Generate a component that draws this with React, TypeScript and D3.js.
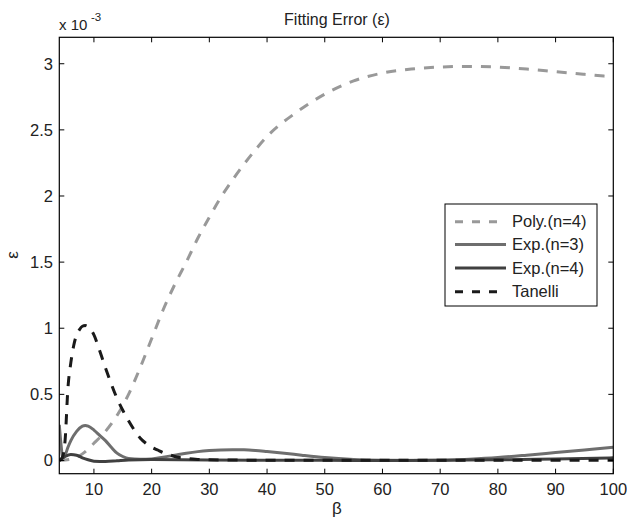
import React from 'react';
import * as d3 from 'd3';

// values in units of 1e-3
const polyBeta = [4, 6, 8, 10, 12, 14, 16, 18, 20, 22, 24, 26, 28, 30, 32, 34, 36, 38, 40, 45, 50, 55, 60, 65, 70, 75, 80, 85, 90, 95, 100];
const polyErr = [0.0, 0.01, 0.05, 0.13, 0.22, 0.34, 0.5, 0.7, 0.92, 1.14, 1.33, 1.5, 1.68, 1.84, 1.99, 2.12, 2.24, 2.35, 2.45, 2.63, 2.77, 2.87, 2.93, 2.96, 2.975, 2.98, 2.975, 2.96, 2.94, 2.92, 2.9];

const exp3Beta = [4, 4.3, 4.6, 5, 5.5, 6, 7, 8, 8.5, 9, 10, 11, 12, 13, 14, 15, 16, 18, 20, 22, 24, 26, 28, 30, 32, 34, 36, 38, 40, 43, 46, 50, 55, 60, 65, 70, 75, 80, 85, 90, 95, 100];
const exp3Err = [0.27, 0.12, 0.02, 0.04, 0.1, 0.15, 0.22, 0.26, 0.265, 0.26, 0.23, 0.19, 0.15, 0.1, 0.055, 0.03, 0.015, 0.01, 0.012, 0.025, 0.04, 0.055, 0.067, 0.075, 0.08, 0.082, 0.081, 0.076, 0.068, 0.055, 0.04, 0.022, 0.008, 0.002, 0.0, 0.002, 0.01, 0.022, 0.04, 0.06, 0.08, 0.1];

const exp4Beta = [4, 5, 6, 7, 8, 9, 10, 12, 14, 16, 20, 25, 30, 40, 50, 60, 70, 80, 90, 100];
const exp4Err = [0.0, 0.03, 0.045, 0.04, 0.02, 0.005, -0.005, -0.008, -0.002, 0.004, 0.007, 0.006, 0.004, 0.002, 0.001, 0.0, 0.001, 0.005, 0.012, 0.02];

const tanBeta = [4, 4.5, 5, 5.5, 6, 6.5, 7, 7.5, 8, 8.5, 9, 10, 11, 12, 13, 14, 15, 16, 17, 18, 19, 20, 21, 22, 23, 24, 26, 28, 30, 35, 40, 50, 100];
const tanErr = [0.0, 0.02, 0.15, 0.55, 0.74, 0.87, 0.95, 0.99, 1.015, 1.02, 1.01, 0.95, 0.83, 0.7, 0.58, 0.47, 0.38, 0.3, 0.23, 0.17, 0.13, 0.1, 0.08, 0.06, 0.045, 0.03, 0.015, 0.008, 0.005, 0.003, 0.002, 0.001, 0.001];

const xTicks = [10, 20, 30, 40, 50, 60, 70, 80, 90, 100];
const yTicks = [0, 0.5, 1, 1.5, 2, 2.5, 3];

const seriesNames = ['Poly.(n=4)', 'Exp.(n=3)', 'Exp.(n=4)', 'Tanelli'];
const seriesColors = ['#999999', '#6e6e6e', '#404040', '#1a1a1a'];
const seriesDash = ['10,9', null, null, '10,9'];

const W = 627, H = 518;
const m = { left: 59.3, right: 613.3, top: 37.3, bottom: 473.7 };
const font = 'Liberation Sans, Arial, Helvetica, sans-serif';

const App = () => {
  const x = d3.scaleLinear().domain([4, 100]).range([m.left, m.right]);
  const y = d3.scaleLinear().domain([-0.1, 3.2]).range([m.bottom, m.top]);
  const line = d3.line<[number, number]>().x(d => x(d[0])).y(d => y(d[1])).curve(d3.curveMonotoneX);

  const series = [
    d3.zip(polyBeta, polyErr),
    d3.zip(exp3Beta, exp3Err),
    d3.zip(exp4Beta, exp4Err),
    d3.zip(tanBeta, tanErr),
  ] as [number, number][][];

  const lx = 445, ly = 204, lw = 152, lh = 102;
  const rowY = [221.7, 244.5, 268, 291.7];

  return (
    <svg width={W} height={H} style={{ position: 'absolute', left: 0, top: 0, fontFamily: font }}>
      <rect width={W} height={H} fill="#fff" />
      <defs>
        <clipPath id="plot">
          <rect x={m.left} y={m.top} width={m.right - m.left} height={m.bottom - m.top} />
        </clipPath>
      </defs>
      <g clipPath="url(#plot)">
        {series.map((s, i) => (
          <path key={i} d={line(s) ?? ''} fill="none" stroke={seriesColors[i]} strokeWidth={3}
            strokeDasharray={seriesDash[i] ?? undefined} />
        ))}
      </g>
      <rect x={m.left} y={m.top} width={m.right - m.left} height={m.bottom - m.top} fill="none" stroke="#000" strokeWidth={1.2} />
      {xTicks.map(t => (
        <g key={t}>
          <line x1={x(t)} x2={x(t)} y1={m.bottom} y2={m.bottom - 5} stroke="#000" />
          <line x1={x(t)} x2={x(t)} y1={m.top} y2={m.top + 5} stroke="#000" />
          <text x={x(t)} y={495} textAnchor="middle" fontSize={16.5} fill="#222">{t}</text>
        </g>
      ))}
      {yTicks.map(t => (
        <g key={t}>
          <line x1={m.left} x2={m.left + 5} y1={y(t)} y2={y(t)} stroke="#000" />
          <line x1={m.right} x2={m.right - 5} y1={y(t)} y2={y(t)} stroke="#000" />
          <text x={53} y={y(t) + 6} textAnchor="end" fontSize={16.5} fill="#222">{t}</text>
        </g>
      ))}
      <text x={337} y={25} textAnchor="middle" fontSize={16} fill="#222">Fitting Error (ε)</text>
      <text x={59} y={30} fontSize={15} fill="#222">x 10</text>
      <text x={91} y={21} fontSize={11.5} fill="#222">-3</text>
      <text x={337} y={514} textAnchor="middle" fontSize={17} fill="#222">β</text>
      <text transform="translate(18,255) rotate(-90)" textAnchor="middle" fontSize={17} fill="#222">ε</text>
      <rect x={lx} y={ly} width={lw} height={lh} fill="#fff" stroke="#000" strokeWidth={1} />
      {seriesNames.map((n, i) => (
        <g key={n}>
          <line x1={455} x2={506} y1={rowY[i]} y2={rowY[i]} stroke={seriesColors[i]} strokeWidth={3}
            strokeDasharray={seriesDash[i] ? '8,9' : undefined} />
          <text x={512} y={rowY[i] + 5.5} fontSize={16.5} fill="#222">{n}</text>
        </g>
      ))}
    </svg>
  );
};

export default App;
